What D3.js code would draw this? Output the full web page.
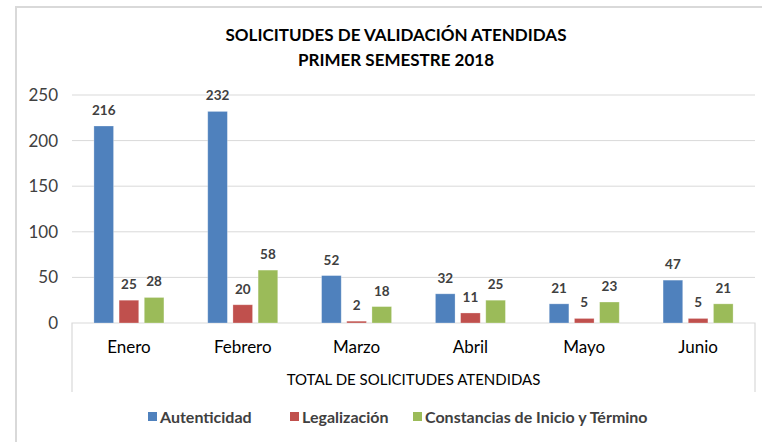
<!DOCTYPE html>
<html>
<head>
<meta charset="utf-8">
<script src="https://cdn.jsdelivr.net/npm/d3@7"></script>
<style>
  body { margin: 0; background: #fff; }
  text { font-family: Lato, "Open Sans", sans-serif; }
</style>
</head>
<body>
<svg id="chart"></svg>
<script>
'use strict';
var months = ["Enero", "Febrero", "Marzo", "Abril", "Mayo", "Junio"];
var seriesNames = ["Autenticidad", "Legalización", "Constancias de Inicio y Término"];
var autenticidad = [216, 232, 52, 32, 21, 47];
var legalizacion = [25, 20, 2, 11, 5, 5];
var constancias = [28, 58, 18, 25, 23, 21];
var yTicks = [0, 50, 100, 150, 200, 250];
var colors = ["#4F81BD", "#C0504D", "#9BBB59"];

(function() {
  var width = 771, height = 442;
  var margin = { top: 95, right: 16, bottom: 119, left: 72 };
  var plotW = width - margin.left - margin.right,
    plotH = height - margin.top - margin.bottom;

  var svg = d3.select("#chart")
    .attr("width", width)
    .attr("height", height);

  // outer chart frame (only top and left visible)
  svg.append("path")
    .attr("d", "M16," + height + "V7H762")
    .attr("fill", "none")
    .attr("stroke", "#d9d9d9")
    .attr("stroke-width", 2);

  // title
  var title = svg.append("text")
    .attr("text-anchor", "middle")
    .style("font-size", "17px")
    .style("font-weight", "bold")
    .attr("fill", "#000");
  title.append("tspan").attr("x", 396).attr("y", 41).text("SOLICITUDES DE VALIDACIÓN ATENDIDAS");
  title.append("tspan").attr("x", 396).attr("y", 66).text("PRIMER SEMESTRE 2018");

  var data = months.map(function(m, i) {
    return { month: m, values: [autenticidad[i], legalizacion[i], constancias[i]] };
  });

  var x0 = d3.scaleBand().domain(months).range([0, plotW]).paddingInner(0.385).paddingOuter(0.1925);
  var x1 = d3.scaleBand().domain([0, 1, 2]).range([0, x0.bandwidth()]).paddingInner(0.22);
  var y = d3.scaleLinear().domain([0, 250]).range([plotH, 0]);

  var g = svg.append("g").attr("transform", "translate(" + margin.left + "," + margin.top + ")");

  // gridlines
  g.append("g").selectAll("line")
    .data(yTicks.filter(function(t) { return t > 0; }))
    .enter().append("line")
    .attr("x1", 0).attr("x2", plotW)
    .attr("y1", function(d) { return y(d); })
    .attr("y2", function(d) { return y(d); })
    .attr("stroke", "#d9d9d9")
    .attr("stroke-width", 1);

  // y axis labels
  var yAxis = g.append("g")
    .call(d3.axisLeft(y).tickValues(yTicks).tickSize(0).tickPadding(14));
  yAxis.select(".domain").remove();
  yAxis.selectAll("text")
    .style("font-size", "17px")
    .style("font-family", "Lato, sans-serif")
    .attr("fill", "#404040");

  // x axis box
  var boxH = 69;
  g.append("path")
    .attr("d", "M0," + (plotH + boxH) + "V" + plotH + "H" + plotW + "V" + (plotH + boxH))
    .attr("fill", "none")
    .attr("stroke", "#d9d9d9")
    .attr("stroke-width", 1.2);

  var xAxis = g.append("g")
    .attr("transform", "translate(0," + plotH + ")")
    .call(d3.axisBottom(x0).tickSize(0).tickPadding(18));
  xAxis.select(".domain").remove();
  xAxis.selectAll("text")
    .style("font-size", "17px")
    .style("font-family", "Lato, sans-serif")
    .attr("fill", "#000");

  g.append("text")
    .attr("x", plotW / 2)
    .attr("y", plotH + 62)
    .attr("text-anchor", "middle")
    .style("font-size", "15px")
    .attr("fill", "#000")
    .text("TOTAL DE SOLICITUDES ATENDIDAS");

  // bars
  var groups = g.selectAll(".grp")
    .data(data)
    .enter().append("g")
    .attr("class", "grp")
    .attr("transform", function(d) { return "translate(" + x0(d.month) + ",0)"; });

  groups.selectAll("rect")
    .data(function(d) { return d.values; })
    .enter().append("rect")
    .attr("x", function(d, i) { return x1(i); })
    .attr("width", x1.bandwidth())
    .attr("y", function(d) { return y(d); })
    .attr("height", function(d) { return plotH - y(d); })
    .attr("fill", function(d, i) { return colors[i]; })
    .attr("stroke", "#ffffff")
    .attr("stroke-opacity", 0.35)
    .attr("stroke-width", 0.8);

  groups.selectAll(".lbl")
    .data(function(d) { return d.values; })
    .enter().append("text")
    .attr("class", "lbl")
    .attr("x", function(d, i) { return x1(i) + x1.bandwidth() / 2; })
    .attr("y", function(d) { return y(d) - 11; })
    .attr("text-anchor", "middle")
    .style("font-size", "13.5px")
    .style("font-weight", "bold")
    .attr("fill", "#404040")
    .text(function(d) { return d; });

  // legend
  var legendX = [148, 290, 413];
  var legend = svg.append("g").selectAll("g")
    .data(seriesNames)
    .enter().append("g")
    .attr("transform", function(d, i) { return "translate(" + legendX[i] + ",417)"; });
  legend.append("rect")
    .attr("x", 0).attr("y", -5)
    .attr("width", 9).attr("height", 9)
    .attr("fill", function(d, i) { return colors[i]; });
  legend.append("text")
    .attr("x", 12)
    .attr("y", 5.5)
    .style("font-size", "16px")
    .style("font-weight", "bold")
    .attr("fill", "#404040")
    .text(function(d) { return d; });
})();
</script>
</body>
</html>
